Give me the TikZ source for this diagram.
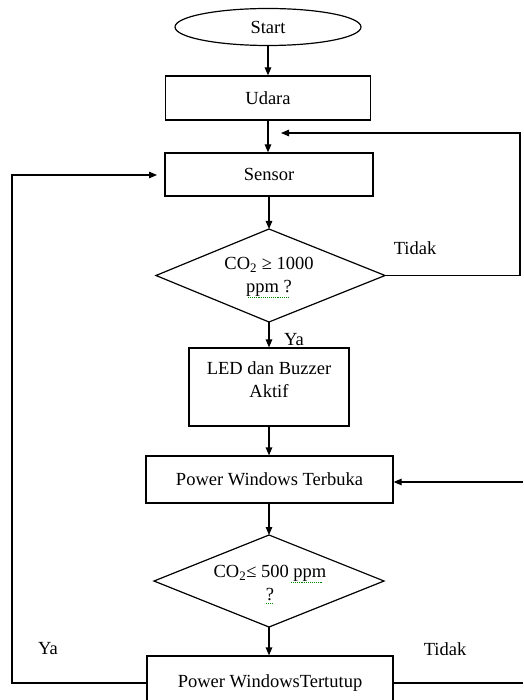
\documentclass[tikz,border=0pt]{standalone}
\usepackage{fontspec}
\setmainfont{Liberation Serif}
\usetikzlibrary{shapes.geometric,arrows.meta}
\begin{document}
\begin{tikzpicture}[x=1pt,y=-1pt,
  every node/.style={font=\fontsize{18.5}{23}\selectfont},
  box/.style={draw, line width=1.2pt, inner sep=0pt},
  conn/.style={line width=1.2pt},
  arr/.style={conn, -{Triangle[length=8pt,width=6.5pt]}},
  lbl/.style={inner sep=0pt},
  squig/.style={green!55!black, densely dotted, line width=0.9pt}]
\useasboundingbox (0,0) rectangle (523,700);
\clip (0,0) rectangle (523,700);
% nodes
\node[box, ellipse, minimum width=186pt, minimum height=37pt] (start) at (268,27) {Start};
\node[box, minimum width=205pt, minimum height=44pt] (udara) at (268,98) {Udara};
\node[box, minimum width=208pt, minimum height=43pt] (sensor) at (269,174.5) {Sensor};
% diamond 1
\coordinate (d1t) at (269,229);
\coordinate (d1r) at (385,275.5);
\coordinate (d1b) at (269,322);
\coordinate (d1l) at (156,275.5);
\draw[conn] (d1t) -- (d1r) -- (d1b) -- (d1l) -- cycle;
\node[align=center, lbl] (d1) at (269,277) {CO\textsubscript{2} ≥ 1000\\ppm ?};
\draw[squig] (248,297) -- (289,297);
% LED
\node[box, minimum width=160pt, minimum height=78pt] (led) at (269,387) {};
\node[align=center, lbl] (ledtxt) at (269,380) {LED dan Buzzer\\Aktif};
% PW terbuka
\node[box, minimum width=247pt, minimum height=47pt] (pwt) at (269.5,479.5) {Power Windows Terbuka};
% diamond 2
\coordinate (d2t) at (269,535);
\coordinate (d2r) at (384,581);
\coordinate (d2b) at (269,627);
\coordinate (d2l) at (154,581);
\draw[conn] (d2t) -- (d2r) -- (d2b) -- (d2l) -- cycle;
\node[align=center, lbl] (d2) at (270,583) {CO\textsubscript{2}≤ 500 ppm\\?};
\draw[squig] (291,582) -- (323,582);
\draw[squig] (266,603) -- (272,603);
% PW tertutup
\node[box, minimum width=246pt, minimum height=54pt] (pwc) at (270,683) {Power WindowsTertutup};
% labels
\node[lbl] (tidak1) at (415,248) {Tidak};
\node[lbl] (ya1) at (294,340) {Ya};
\node[lbl] (ya2) at (48,649) {Ya};
\node[lbl] (tidak2) at (445,649) {Tidak};
% free ends
\coordinate (loopend) at (281,133);
\coordinate (rcorner) at (520,133);
\coordinate (lcorner) at (12,683);
\coordinate (sensin) at (157,175);
\coordinate (redge) at (523,482);
\coordinate (redge2) at (523,683);
% connectors
\draw[arr] (start.south) -- (start.south |- udara.north);
\draw[arr] (udara.south) -- (udara.south |- sensor.north);
\draw[arr] (sensor.south) -- (d1t);
\draw[arr] (d1b) -- (led.north);
\draw[arr] (led.south) -- (led.south |- pwt.north);
\draw[arr] (pwt.south -| d2t) -- (d2t);
\draw[arr] (d2b) -- (d2b |- pwc.north);
\draw[arr] (d1r) -| (rcorner) -- (loopend);
\draw[arr] (redge) -- (pwt.east |- redge);
\draw[arr] (pwc.west) -- (lcorner) |- (sensin);
\draw[conn] (pwc.east) -- (redge2);
\end{tikzpicture}
\end{document}
